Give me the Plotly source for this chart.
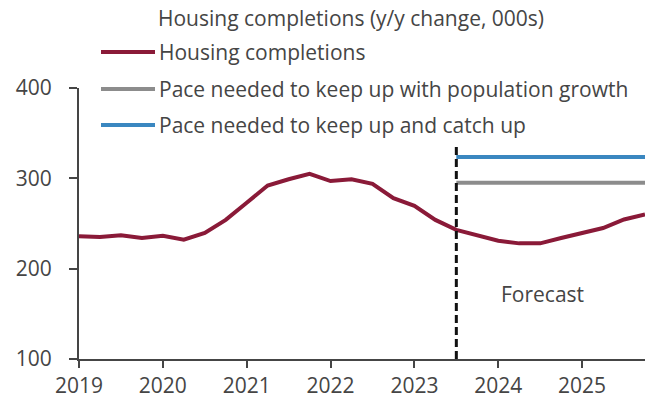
import plotly.graph_objects as go

quarters = [2019 + 0.25 * i for i in range(28)]
completions = [236, 235, 237, 234, 236.5, 232, 239.5, 254, 273, 292, 299, 305,
               297, 299, 294, 278, 269.5, 254, 243, 237, 231, 228, 228, 234,
               240, 245, 254.5, 260]
target_x = [2023.5, 2025.75]
pop_growth = [295, 295]
catch_up = [323.5, 323.5]
forecast_start = 2023.5

MAROON = "#8a1a38"
GREY = "#8c8c8c"
BLUE = "#3a87c0"
TEXT = "#454545"
FONT = "Open Sans"
FS = 21

W, H = 651, 404
L, R, T, B = 79, 6, 88, 45
pw, ph = W - L - R, H - T - B

def px(x):
    return (x - L) / pw

def py(y):
    return (H - B - y) / ph

tf = dict(family=FONT, size=FS, color=TEXT)

fig = go.Figure()
fig.add_trace(go.Scatter(x=target_x, y=catch_up, mode="lines",
                         line=dict(color=BLUE, width=4), showlegend=False, hoverinfo="skip"))
fig.add_trace(go.Scatter(x=target_x, y=pop_growth, mode="lines",
                         line=dict(color=GREY, width=4), showlegend=False, hoverinfo="skip"))
fig.add_trace(go.Scatter(x=quarters, y=completions, mode="lines",
                         line=dict(color=MAROON, width=4), showlegend=False, hoverinfo="skip"))

fig.add_shape(type="line", x0=forecast_start, x1=forecast_start, y0=100, y1=337,
              xref="x", yref="y", line=dict(color="#111111", width=3, dash="8px,4px"))
fig.add_annotation(x=2024.53, y=172, text="Forecast", showarrow=False, font=tf)

fig.add_annotation(x=px(156), y=py(18), xref="paper", yref="paper", xanchor="left", yanchor="middle",
                   text="Housing completions (y/y change, 000s)", showarrow=False, font=tf)
legend_items = [("Housing completions", MAROON, 52),
                ("Pace needed to keep up with population growth", GREY, 89),
                ("Pace needed to keep up and catch up", BLUE, 125)]
for label, col, yy in legend_items:
    fig.add_shape(type="line", xref="paper", yref="paper", x0=px(101), x1=px(155),
                  y0=py(yy), y1=py(yy), line=dict(color=col, width=4))
    fig.add_annotation(x=px(157), y=py(yy), xref="paper", yref="paper", xanchor="left", yanchor="middle",
                       text=label, showarrow=False, font=tf)

fig.update_layout(
    width=W, height=H,
    margin=dict(l=L, r=R, t=T, b=B, autoexpand=False),
    paper_bgcolor="white", plot_bgcolor="white",
    font=tf,
    showlegend=False,
)
fig.update_xaxes(range=[2019, 2025.75], tickvals=[2019, 2020, 2021, 2022, 2023, 2024, 2025],
                 ticktext=["2019", "2020", "2021", "2022", "2023", "2024", "2025"],
                 showgrid=False, zeroline=False, showline=True, linecolor=TEXT, linewidth=2,
                 ticks="outside", ticklen=7, tickwidth=2, tickcolor=TEXT, automargin=False,
                 tickfont=tf)
fig.update_yaxes(range=[100, 400], tickvals=[100, 200, 300, 400],
                 showgrid=False, zeroline=False, showline=True, linecolor=TEXT, linewidth=2,
                 ticks="outside", ticklen=8, tickwidth=2, tickcolor=TEXT, automargin=False,
                 ticklabelstandoff=13, tickfont=tf)

fig.write_html("out.html", config={"displayModeBar": False},
               post_script="document.body.style.margin='0';")
